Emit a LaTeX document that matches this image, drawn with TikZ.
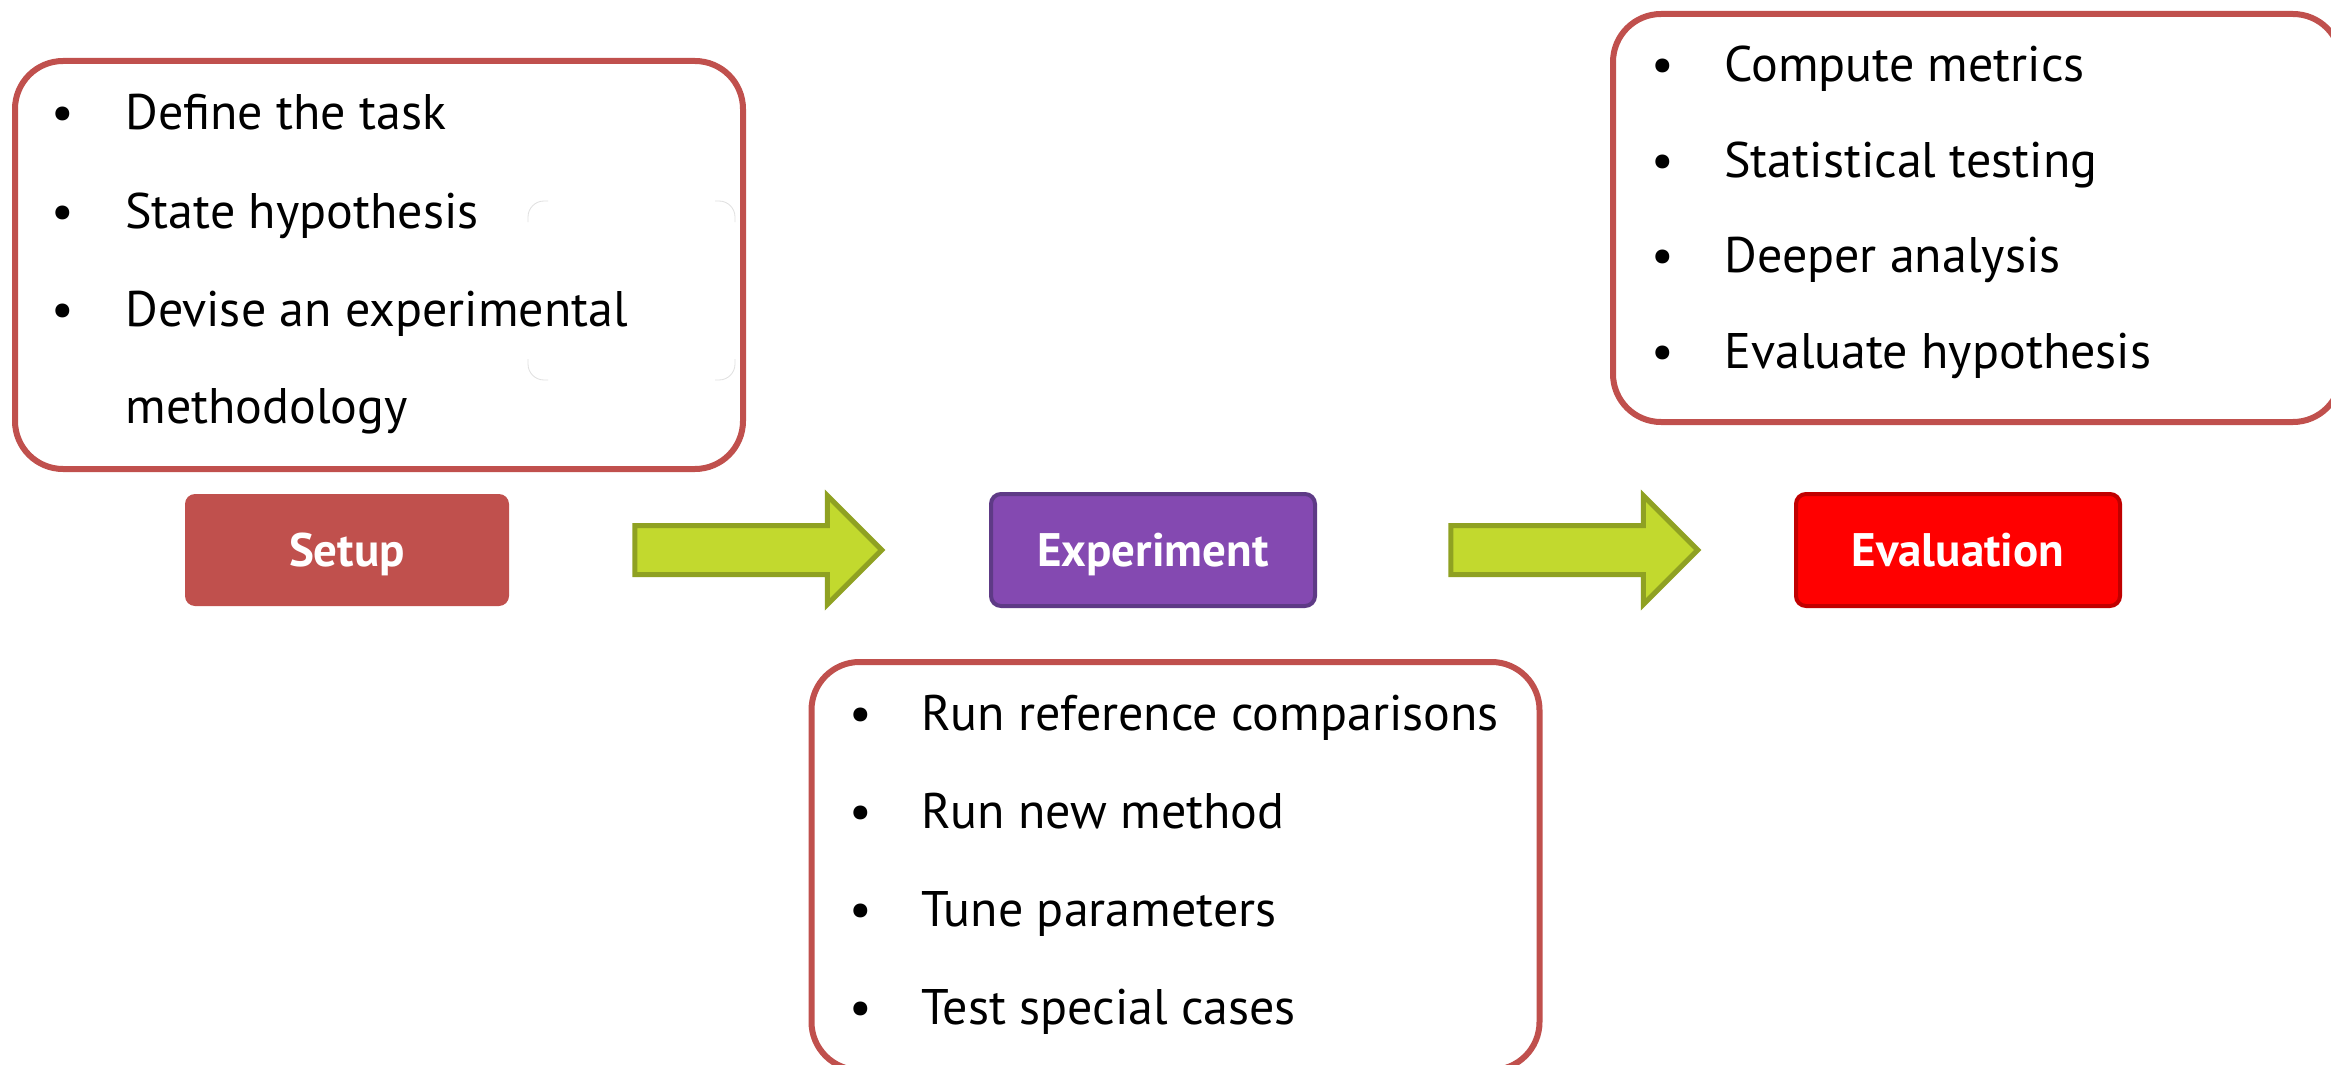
\documentclass[tikz,border=0pt]{standalone}
\usepackage{fontspec}
\setmainfont{PT Sans}
\usetikzlibrary{shapes.arrows}
\definecolor{brick}{HTML}{C0504D}
\definecolor{grape}{HTML}{8449B1}
\definecolor{grapedark}{HTML}{5E3A86}
\definecolor{signal}{HTML}{FF0000}
\definecolor{signaldark}{HTML}{C00000}
\definecolor{limefill}{HTML}{C2D92E}
\definecolor{limeedge}{HTML}{8FA122}

\begin{document}
\begin{tikzpicture}
	[x=0.5pt,y=-0.5pt,
	every node/.style={inner sep=0pt},
	listbox/.style={draw=brick,fill=white,line width=3pt,rounded corners=24pt,
		minimum width=364pt,minimum height=204pt},
	stage/.style={rounded corners=5pt,line width=2pt,text=white,
		minimum width=162pt,minimum height=56pt,text height=16.5pt,text depth=0pt,
		font=\fontsize{23.5}{28}\selectfont\bfseries},
	flow/.style={single arrow,single arrow head extend=15pt,inner ysep=11pt,
		minimum height=123.5pt,fill=limefill,draw=limeedge,line width=2.5pt},
	item/.style={anchor=base west,font=\fontsize{25}{30}\selectfont},
	dot/.style={anchor=base,font=\fontsize{25}{30}\selectfont},
	ghost/.style={draw=black!12,line width=0.4pt,rounded corners=8pt}]
	\useasboundingbox (0,0) rectangle (2331,1065);
	\clip (0,0) rectangle (2331,1065);
	% lists
	\node[listbox] (setupList) at (379,265) {};
	\node[listbox] (experimentList) at (1175.5,866) {};
	\node[listbox] (evaluationList) at (1977,218) {};
	\draw[ghost] (528,222) |- (548,201);
	\draw[ghost] (715,201) -| (735,222);
	\draw[ghost] (528,359) |- (548,380);
	\draw[ghost] (715,380) -| (735,359);
	% setup list
	\node[dot] (s1d) at (63,130) {\textbullet};
	\node[item] (s1) at (125,130) {Define the task};
	\node[dot] (s2d) at (63,228) {\textbullet};
	\node[item] (s2) at (125,228) {State hypothesis};
	\node[dot] (s3d) at (63,326) {\textbullet};
	\node[item] (s3) at (125,326) {Devise an experimental};
	\node[item] (s4) at (125,423) {methodology};
	% experiment list
	\node[dot] (e1d) at (861,730) {\textbullet};
	\node[item] (e1) at (921,730) {Run reference comparisons};
	\node[dot] (e2d) at (861,828) {\textbullet};
	\node[item] (e2) at (921,828) {Run new method};
	\node[dot] (e3d) at (861,926) {\textbullet};
	\node[item] (e3) at (921,926) {Tune parameters};
	\node[dot] (e4d) at (861,1024) {\textbullet};
	\node[item] (e4) at (921,1024) {Test special cases};
	% evaluation list
	\node[dot] (v1d) at (1663,82) {\textbullet};
	\node[item] (v1) at (1724,82) {Compute metrics};
	\node[dot] (v2d) at (1663,177) {\textbullet};
	\node[item] (v2) at (1724,177) {Statistical testing};
	\node[dot] (v3d) at (1663,272) {\textbullet};
	\node[item] (v3) at (1724,272) {Deeper analysis};
	\node[dot] (v4d) at (1663,368) {\textbullet};
	\node[item] (v4) at (1724,368) {Evaluate hypothesis};
	% stages
	\node[stage,fill=brick] (setup) at (347,550) {Setup};
	\node[stage,fill=grape,draw=grapedark] (experiment) at (1153,550) {Experiment};
	\node[stage,fill=signal,draw=signaldark] (evaluation) at (1958,550) {Evaluation};
	\node[flow] (toExperiment) at (746,550) {};
	\node[flow] (toEvaluation) at (1562,550) {};
\end{tikzpicture}
\end{document}
